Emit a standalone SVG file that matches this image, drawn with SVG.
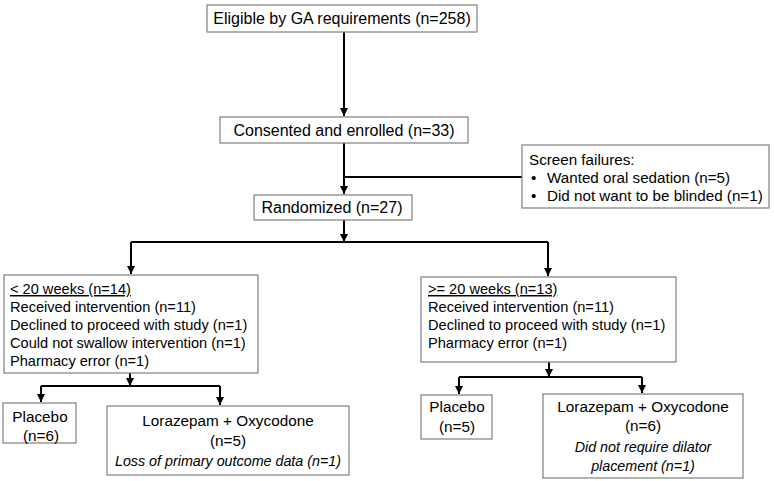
<svg xmlns="http://www.w3.org/2000/svg" width="774" height="481" viewBox="0 0 774 481">
<defs>
<marker id="ah" viewBox="0 0 10 10" refX="10" refY="5" markerWidth="4" markerHeight="4" orient="auto" markerUnits="strokeWidth">
<path d="M0,0 L10,5 L0,10 z" fill="#000"/>
</marker>
<style>
.box{fill:#fff;stroke:#7f7f7f;stroke-width:1.2}
.t{font-family:"Liberation Sans",Arial,sans-serif;font-size:16px;fill:#000}
.s{font-size:14.6px}
.f{font-size:15.2px}
.m{font-size:15.3px}
.c{text-anchor:middle}
.i{font-style:italic;font-size:14.3px}
.ln{fill:none;stroke:#000;stroke-width:2}
.ar{fill:none;stroke:#000;stroke-width:2;marker-end:url(#ah)}
</style>
</defs>
<rect width="774" height="481" fill="#fff"/>
<g id="connectors">
<path class="ar" d="M344,32 V116"/>
<path class="ln" d="M344,143 V177 H522"/>
<path class="ar" d="M344,177 V194"/>
<path class="ln" d="M344,220 V242 H131 M344,242 H548"/>
<path class="ar" d="M344,220 V242"/>
<path class="ar" d="M131,242 V274"/>
<path class="ar" d="M548,242 V276"/>
<path class="ar" d="M130,373 V386"/>
<path class="ln" d="M41,386 H220"/>
<path class="ar" d="M41,386 V402"/>
<path class="ar" d="M220,386 V405"/>
<path class="ar" d="M549,362 V377"/>
<path class="ln" d="M459,377 H642"/>
<path class="ar" d="M459,377 V394"/>
<path class="ar" d="M642,377 V393"/>
</g>
<g id="eligible">
<rect class="box" x="207" y="5" width="270" height="27"/>
<text class="t c" x="342" y="24">Eligible by GA requirements (n=258)</text>
</g>
<g id="consented">
<rect class="box" x="220" y="117" width="248" height="26"/>
<text class="t c" x="344" y="136">Consented and enrolled (n=33)</text>
</g>
<g id="screen">
<rect class="box" x="522" y="145" width="247" height="63"/>
<text class="t f" x="529" y="165">Screen failures:</text>
<text class="t f" x="531" y="183">•</text>
<text class="t f" x="547" y="183">Wanted oral sedation (n=5)</text>
<text class="t f" x="531" y="201">•</text>
<text class="t f" x="547" y="201">Did not want to be blinded (n=1)</text>
</g>
<g id="randomized">
<rect class="box" x="254" y="195" width="158" height="25"/>
<text class="t c" x="332" y="213">Randomized (n=27)</text>
</g>
<g id="lt20">
<rect class="box" x="4" y="275" width="254" height="98"/>
<text class="t s" x="10" y="294" text-decoration="underline">&lt; 20 weeks (n=14)</text>
<text class="t s" x="10" y="312">Received intervention (n=11)</text>
<text class="t s" x="10" y="330">Declined to proceed with study (n=1)</text>
<text class="t s" x="10" y="348">Could not swallow intervention (n=1)</text>
<text class="t s" x="10" y="366">Pharmacy error (n=1)</text>
</g>
<g id="ge20">
<rect class="box" x="421" y="277" width="255" height="85"/>
<text class="t s" x="428" y="294" text-decoration="underline">&gt;= 20 weeks (n=13)</text>
<text class="t s" x="428" y="312">Received intervention (n=11)</text>
<text class="t s" x="428" y="330">Declined to proceed with study (n=1)</text>
<text class="t s" x="428" y="348">Pharmacy error (n=1)</text>
</g>
<g id="placebo1">
<rect class="box" x="3" y="403" width="73" height="40"/>
<text class="t m c" x="40" y="422">Placebo</text>
<text class="t m c" x="41" y="441">(n=6)</text>
</g>
<g id="loraz1">
<rect class="box" x="107" y="406" width="242" height="69"/>
<text class="t m c" x="228" y="426">Lorazepam + Oxycodone</text>
<text class="t m c" x="228" y="446">(n=5)</text>
<text class="t i c" x="228" y="466">Loss of primary outcome data (n=1)</text>
</g>
<g id="placebo2">
<rect class="box" x="421" y="395" width="71" height="44"/>
<text class="t m c" x="457" y="412">Placebo</text>
<text class="t m c" x="457" y="432">(n=5)</text>
</g>
<g id="loraz2">
<rect class="box" x="543" y="394" width="200" height="84"/>
<text class="t m c" x="643" y="412">Lorazepam + Oxycodone</text>
<text class="t m c" x="643" y="431">(n=6)</text>
<text class="t i c" x="643" y="452">Did not require dilator</text>
<text class="t i c" x="643" y="471">placement (n=1)</text>
</g>
</svg>
